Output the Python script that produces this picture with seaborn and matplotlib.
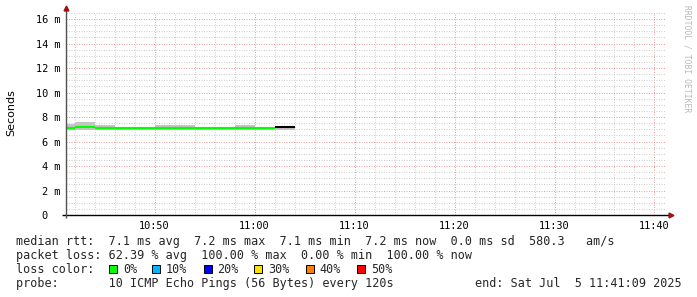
import matplotlib
matplotlib.use("Agg")
import matplotlib.pyplot as plt
from matplotlib.patches import Rectangle
from matplotlib.ticker import MultipleLocator, FixedLocator, FixedFormatter
import seaborn as sns
import pandas as pd
import numpy as np

# ---------------- data ----------------
interval_start = ["10:40", "10:42", "10:44", "10:46", "10:48", "10:50",
                  "10:52", "10:54", "10:56", "10:58", "11:00", "11:02"]
last_end = "11:04"
median_ms = [7.11, 7.17, 7.11, 7.11, 7.11, 7.11, 7.11, 7.11, 7.11, 7.11, 7.11, 7.17]
smoke_hi_ms = [7.47, 7.63, 7.36, 7.20, 7.20, 7.36, 7.36, 7.20, 7.20, 7.36, 7.20, 7.28]
smoke_lo_ms = [6.97, 6.97, 6.97, 6.97, 6.97, 6.97, 6.97, 6.97, 6.97, 6.97, 6.97, 6.97]
loss_pct = [0, 0, 0, 0, 0, 0, 0, 0, 0, 0, 0, None]

x_start, x_end = "10:41:09", "11:41:09"
x_tick_labels = ["10:50", "11:00", "11:10", "11:20", "11:30", "11:40"]
y_ticks = [0, 2, 4, 6, 8, 10, 12, 14, 16]
y_tick_labels = ["0  ", "2 m", "4 m", "6 m", "8 m", "10 m", "12 m", "14 m", "16 m"]

loss_legend_labels = ["0%", "10%", "20%", "30%", "40%", "50%"]
loss_legend_colors = ["#00ff00", "#00b8ff", "#0000ff", "#ffe000", "#ff8000", "#ff0000"]

line1 = "median rtt:  7.1 ms avg  7.2 ms max  7.1 ms min  7.2 ms now  0.0 ms sd  580.3   am/s"
line2 = "packet loss: 62.39 % avg  100.00 % max  0.00 % min  100.00 % now"
line3 = "loss color:"
line4 = "probe:       10 ICMP Echo Pings (56 Bytes) every 120s"
line4_end = "end: Sat Jul  5 11:41:09 2025"
ylabel = "Seconds"
watermark = "RRDTOOL / TOBI OETIKER"


def to_min(s):
    p = [int(v) for v in s.split(":")]
    m = (p[0] - 10) * 60 + p[1]
    if len(p) > 2:
        m += p[2] / 60.0
    return m


starts = [to_min(s) for s in interval_start]
edges = starts + [to_min(last_end)]

loss_color_map = {0: "#00ff00", 10: "#00b8ff", 20: "#0000ff", 30: "#ffe000",
                  40: "#ff8000", 50: "#ff0000"}

rows = []
for i, (m, l) in enumerate(zip(median_ms, loss_pct)):
    lab = "n/a" if l is None else f"{l}%"
    rows.append({"t": edges[i], "ms": m, "seg": i, "loss": lab})
    rows.append({"t": edges[i + 1], "ms": m, "seg": i, "loss": lab})
df = pd.DataFrame(rows)
palette = {"n/a": "#000000"}
for k, c in loss_color_map.items():
    palette[f"{k}%"] = c

# ---------------- figure ----------------
sns.set_style("white")
plt.rcParams["font.family"] = ["DejaVu Sans Mono", "DejaVu Sans"]

W, H = 697, 297
fig = plt.figure(figsize=(W / 100, H / 100), dpi=100)
fig.patch.set_facecolor("white")
ax = fig.add_axes([66 / W, 82 / H, 600 / W, 202 / H])
ax.set_facecolor("white")

# smoke
ax.stairs(smoke_hi_ms, edges, baseline=smoke_lo_ms, fill=True,
          color="#c4c4c4", linewidth=0, zorder=2)

# median
sns.lineplot(data=df, x="t", y="ms", hue="loss", units="seg", estimator=None,
             palette=palette, linewidth=1.5, legend=False, ax=ax,
             solid_capstyle="butt", zorder=3)

ax.set_xlim(to_min(x_start), to_min(x_end))
ax.set_ylim(0, 16.5)
ax.set_xlabel("")
ax.set_ylabel("")

xt = [to_min(s) for s in x_tick_labels]
ax.xaxis.set_major_locator(FixedLocator(xt))
ax.xaxis.set_major_formatter(FixedFormatter(x_tick_labels))
ax.xaxis.set_minor_locator(MultipleLocator(2))
ax.yaxis.set_major_locator(FixedLocator(y_ticks))
ax.yaxis.set_major_formatter(FixedFormatter(y_tick_labels))
ax.yaxis.set_minor_locator(MultipleLocator(0.5))

ax.grid(which="minor", color="#cfcfcf", linestyle=(0, (1, 1.5)), linewidth=0.72, zorder=1)
ax.grid(which="major", color="#eaa0a0", linestyle=(0, (1, 1.5)), linewidth=0.72, zorder=1)
ax.set_axisbelow(True)

ax.tick_params(axis="x", which="both", length=0, pad=4.5, labelsize=7.4, colors="#000000")
ax.tick_params(axis="y", which="major", length=2.5, width=0.7, color="#909090",
               pad=1.5, labelsize=7.4, labelcolor="#000000")
ax.tick_params(axis="y", which="minor", length=0)
for s in ax.spines.values():
    s.set_visible(False)

# axis lines with arrows
ax.plot([-4 / 600, 1 + 3 / 600], [0, 0], color="#000000", lw=1.0,
        transform=ax.transAxes, clip_on=False, zorder=5, solid_capstyle="butt")
ax.plot([0, 0], [-3 / 202, 1 + 3 / 202], color="#505050", lw=1.0,
        transform=ax.transAxes, clip_on=False, zorder=5, solid_capstyle="butt")
ax.plot([1 + 5 / 600], [0], marker=">", color="#a01010", markersize=3.5,
        transform=ax.transAxes, clip_on=False, zorder=6)
ax.plot([0], [1 + 5 / 202], marker="^", color="#a01010", markersize=3.5,
        transform=ax.transAxes, clip_on=False, zorder=6)

# labels
fig.text(11 / W, 1 - 113 / H, ylabel, rotation=90, ha="center", va="center",
         fontsize=8, family="DejaVu Sans", color="#000000")
fig.text(687 / W, 1 - 5 / H, watermark, rotation=270, ha="center", va="top",
         fontsize=5.8, color="#b8b8b8")

fs = 8.5
x0 = 16 / W
fig.text(x0, 1 - 245 / H, line1, fontsize=fs, va="baseline", ha="left")
fig.text(x0, 1 - 259 / H, line2, fontsize=fs, va="baseline", ha="left")
fig.text(x0, 1 - 273 / H, line3, fontsize=fs, va="baseline", ha="left")
fig.text(x0, 1 - 287 / H, line4, fontsize=fs, va="baseline", ha="left")
fig.text(682 / W, 1 - 287 / H, line4_end, fontsize=fs, va="baseline", ha="right")

box_x = [109, 152, 203.5, 254.5, 305.5, 357]
for bx, lab, col in zip(box_x, loss_legend_labels, loss_legend_colors):
    fig.patches.append(Rectangle((bx / W, 1 - 273 / H), 8 / W, 8 / H,
                                 transform=fig.transFigure, facecolor=col,
                                 edgecolor="#000000", linewidth=0.7))
    fig.text((bx + 14) / W, 1 - 273 / H, lab, fontsize=fs, va="baseline", ha="left")

fig.savefig("out.png", dpi=100, facecolor="white")
